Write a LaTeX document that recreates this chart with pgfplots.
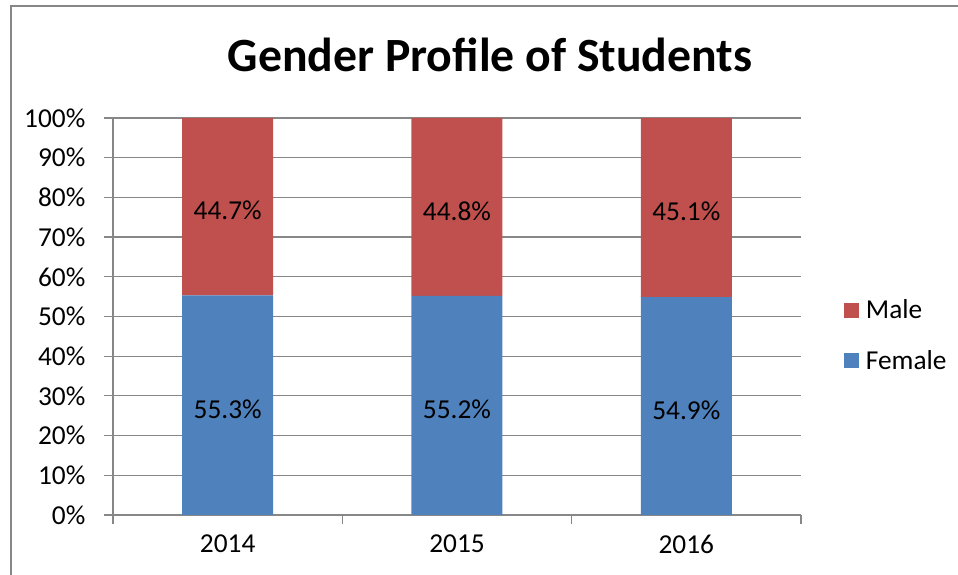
\documentclass[border=0pt]{standalone}
\usepackage{pgfplots}
\pgfplotsset{compat=1.18}
\usepackage{fontspec}
\setmainfont{Carlito}
\definecolor{malered}{HTML}{C0504D}
\definecolor{femaleblue}{HTML}{4F81BD}
\definecolor{gridgray}{HTML}{878787}
\begin{document}
\begin{tikzpicture}[x=0.75pt,y=0.75pt]
% page: 958x575 px, 1px = 0.75pt, origin at axis bottom-left (px 113,515)
\path[use as bounding box] (-113,-60) rectangle (845,515);
\draw[gridgray, line width=1.2pt] (-102,-60) -- (-102,509) -- (850,509);
\begin{axis}[
  at={(0,0)}, anchor=origin,
  scale only axis, width=516pt, height=297.75pt,
  xmin=0, xmax=3, ymin=0, ymax=100,
  axis lines*=left,
  axis line style={gridgray, line width=0.9pt},
  xtick={0,1,2,3}, x tick label as interval,
  xticklabels={2014,2015,2016},
  ytick={0,10,...,100},
  yticklabels={0\%,10\%,20\%,30\%,40\%,50\%,60\%,70\%,80\%,90\%,100\%},
  tick align=outside, major tick length=6.75pt,
  tick style={gridgray, line width=0.9pt},
  ymajorgrids, grid style={gridgray, line width=0.9pt},
  tick label style={font=\fontsize{20.5}{22}\selectfont},
  yticklabel style={xshift=-10.5pt},
  xticklabel style={yshift=-4.5pt},
  ybar stacked, bar width=68.25pt,
  point meta=explicit symbolic,
  nodes near coords,
  every node near coord/.append style={anchor=center, yshift=-3pt,
    font=\fontsize{20.5}{22}\selectfont, black},
  legend style={draw=none, inner sep=0pt, at={(1.0625,0.452)}, anchor=west,
    font=\fontsize{20.5}{22}\selectfont, row sep=18pt, column sep=3pt},
  legend cell align=left, reverse legend,
  legend image code/.code={\fill[#1] (0pt,-5.6pt) rectangle (11.25pt,5.6pt);},
]
\addplot[fill=femaleblue, draw=none]
  coordinates {(0.5,55.3)[55.3\%] (1.5,55.2)[55.2\%] (2.5,54.9)[54.9\%]};
\addlegendentry{Female}
\addplot[fill=malered, draw=none]
  coordinates {(0.5,44.7)[44.7\%] (1.5,44.8)[44.8\%] (2.5,45.1)[45.1\%]};
\addlegendentry{Male}
\end{axis}
\node[anchor=base, font=\fontsize{35.8}{38}\selectfont\bfseries] at (377,443) {Gender Profile of Students};
\end{tikzpicture}
\end{document}
